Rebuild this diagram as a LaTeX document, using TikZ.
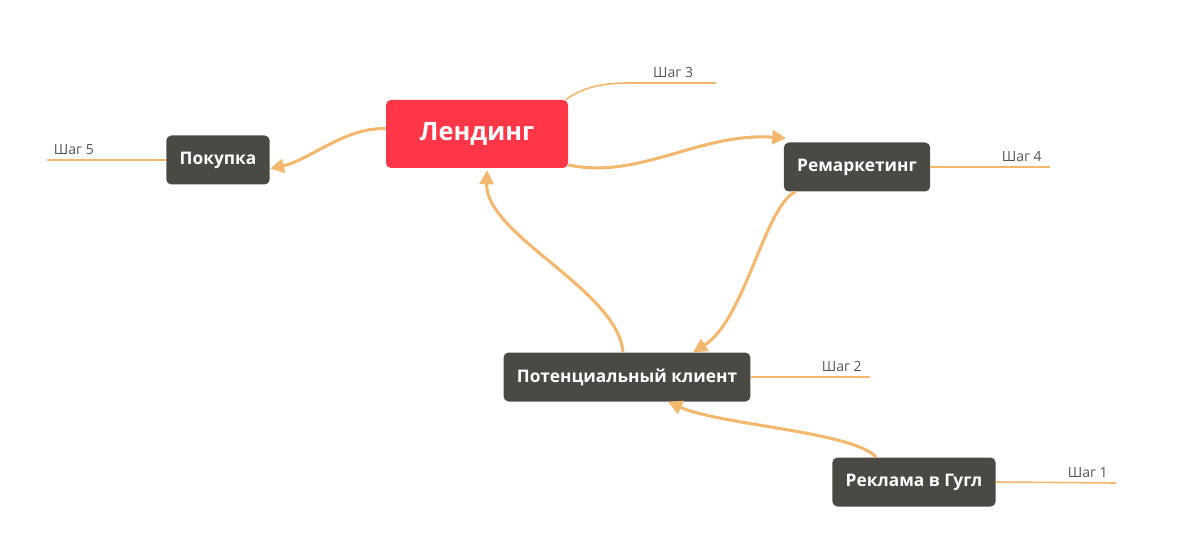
\documentclass[tikz,border=0pt]{standalone}
\usepackage{fontspec}
\setmainfont{Open Sans}
\usetikzlibrary{arrows.meta,positioning,calc}
\definecolor{cRed}{RGB}{255,54,72}
\definecolor{cDark}{RGB}{74,73,68}
\definecolor{cLine}{RGB}{243,183,110}
\definecolor{cText}{RGB}{85,85,85}
\tikzstyle{nS}=[rectangle,rounded corners=3.75pt,fill=cDark,text=white,font=\bfseries\fontsize{13}{15}\selectfont,minimum height=36.75pt,inner xsep=10pt]
\tikzstyle{nMain}=[nS,fill=cRed,font=\bfseries\fontsize{19}{22}\selectfont,minimum width=136.5pt,minimum height=51pt]
\tikzstyle{eLink}=[draw=cLine,line width=2.3pt,-{Triangle[length=10.5pt,width=10.5pt]}]
\tikzstyle{eStep}=[draw=cLine,line width=1.2pt]
\tikzstyle{tStep}=[text=cText,font=\fontsize{10.5}{12}\selectfont,inner sep=1pt]

\begin{document}
\begin{tikzpicture}[x=0.75pt,y=-0.75pt]
                \useasboundingbox (0,0) rectangle (1188,552);
                \node[nMain] (land) at (477,134) {Лендинг};
                \node[nS] (buy) at (218,160) {Покупка};
                \node[nS] (rem) at (857,167) {Ремаркетинг};
                \node[nS] (lead) at (627,377) {Потенциальный клиент};
                \node[nS] (ads) at (914,482) {Реклама в Гугл};
                % step labels
                \coordinate (s5) at (47,160);
                \coordinate (k3) at (630,83);
                \coordinate (s3) at (716,83);
                \coordinate (s4) at (1050,167);
                \coordinate (s2) at (870,377);
                \coordinate (s1) at (1116,483);
                \draw[eStep] (buy.west) -- (s5);
                \draw[eStep] ([xshift=-2pt]land.north east) .. controls (585,86) and (605,83) .. (k3) -- (s3);
                \draw[eStep] (rem.east) -- (s4);
                \draw[eStep] (lead.east) -- (s2);
                \draw[eStep] (ads.east) -- (s1);
                \node[tStep,anchor=south west] (t5) at ([xshift=4pt,yshift=2.5pt]s5) {Шаг 5};
                \node[tStep,anchor=south east] (t3) at ([xshift=-16pt,yshift=2.5pt]s3) {Шаг 3};
                \node[tStep,anchor=south east] (t4) at ([xshift=-5pt,yshift=2.5pt]s4) {Шаг 4};
                \node[tStep,anchor=south east] (t2) at ([xshift=-5pt,yshift=2.5pt]s2) {Шаг 2};
                \node[tStep,anchor=south east] (t1) at ([xshift=-5pt,yshift=2.5pt]s1) {Шаг 1};
                % links
                \draw[eLink] ([yshift=4pt]land.west) .. controls (345,127) and (310,160) .. ([yshift=-6.5pt]buy.east);
                \draw[eLink] ([yshift=2.5pt]land.south east) .. controls (640,180) and (700,132) .. ([xshift=2pt,yshift=3pt]rem.north west);
                \draw[eLink] ([xshift=9pt]rem.south west) .. controls (765,205) and (745,320) .. ([xshift=49.5pt]lead.north);
                \draw[eLink] ([xshift=-3pt]lead.north) .. controls (618,290) and (485,235) .. ([xshift=7.5pt,yshift=-1.5pt]land.south);
                \draw[eLink] ([xshift=-28.5pt]ads.north) .. controls (855,432) and (720,425) .. ([xshift=30.75pt]lead.south);
        \end{tikzpicture}
\end{document}
